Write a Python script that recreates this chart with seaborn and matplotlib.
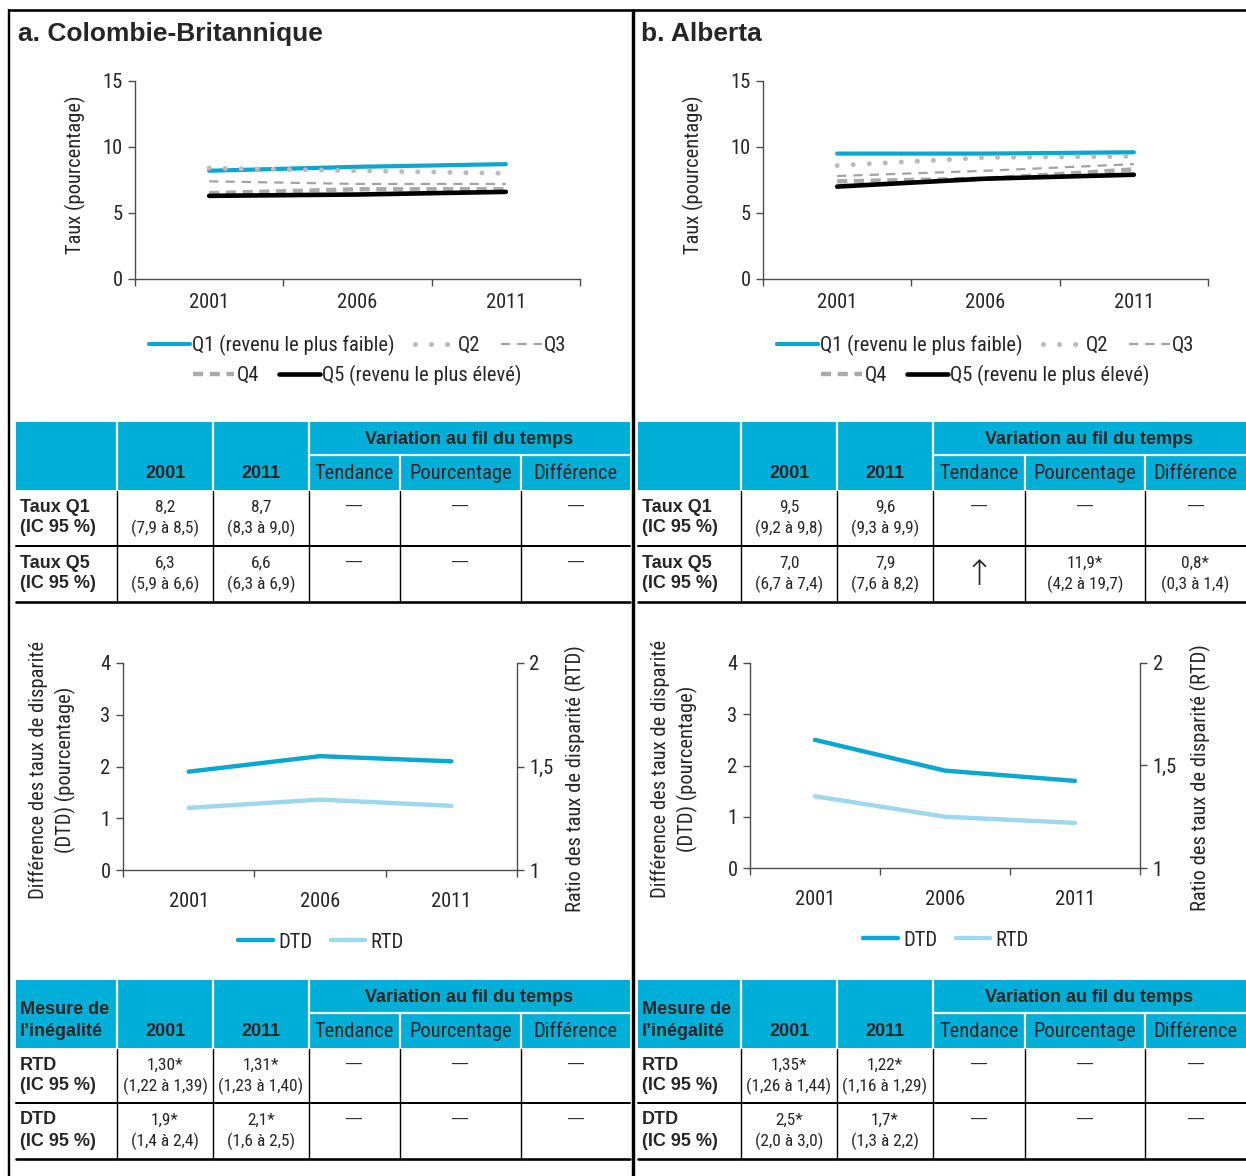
import numpy as np
import pandas as pd
import matplotlib
matplotlib.use("Agg")
import matplotlib.pyplot as plt
import seaborn as sns
from matplotlib.patches import Rectangle
from matplotlib import font_manager

# ---------------------------------------------------------------- data
years = [2001, 2006, 2011]
quintiles = ["Q1", "Q2", "Q3", "Q4", "Q5"]
quintile_labels = ["Q1 (revenu le plus faible)", "Q2", "Q3", "Q4",
                   "Q5 (revenu le plus élevé)"]

bc_q1 = [8.2, 8.5, 8.7]
bc_q2 = [8.4, 8.2, 8.0]
bc_q3 = [7.4, 7.2, 7.2]
bc_q4 = [6.5, 6.8, 6.8]
bc_q5 = [6.3, 6.4, 6.6]

ab_q1 = [9.5, 9.5, 9.6]
ab_q2 = [8.6, 9.2, 9.3]
ab_q3 = [7.8, 8.2, 8.7]
ab_q4 = [7.4, 7.6, 8.3]
ab_q5 = [7.0, 7.6, 7.9]

bc_dtd = [1.9, 2.2, 2.1]
bc_rtd = [1.30, 1.34, 1.31]
ab_dtd = [2.5, 1.9, 1.7]
ab_rtd = [1.35, 1.25, 1.22]

rate_ticks = [0, 5, 10, 15]
dtd_ticks = [0, 1, 2, 3, 4]
rtd_ticks = [1, 1.5, 2]
rtd_tick_labels = ["1", "1,5", "2"]

table_years = ["2001", "2011"]
variation_title = "Variation au fil du temps"
variation_cols = ["Tendance", "Pourcentage", "Différence"]
ci_label = "(IC 95 %)"
rate_rows = ["Taux Q1", "Taux Q5"]
ineq_rows = ["RTD", "DTD"]
ineq_corner = ["Mesure de", "l’inégalité"]

bc_rates_2001 = ["8,2\n(7,9 à 8,5)", "6,3\n(5,9 à 6,6)"]
bc_rates_2011 = ["8,7\n(8,3 à 9,0)", "6,6\n(6,3 à 6,9)"]
bc_rates_trend = ["—", "—"]
bc_rates_pct = ["—", "—"]
bc_rates_diff = ["—", "—"]

ab_rates_2001 = ["9,5\n(9,2 à 9,8)", "7,0\n(6,7 à 7,4)"]
ab_rates_2011 = ["9,6\n(9,3 à 9,9)", "7,9\n(7,6 à 8,2)"]
ab_rates_trend = ["—", "↑"]
ab_rates_pct = ["—", "11,9*\n(4,2 à 19,7)"]
ab_rates_diff = ["—", "0,8*\n(0,3 à 1,4)"]

bc_ineq_2001 = ["1,30*\n(1,22 à 1,39)", "1,9*\n(1,4 à 2,4)"]
bc_ineq_2011 = ["1,31*\n(1,23 à 1,40)", "2,1*\n(1,6 à 2,5)"]
bc_ineq_trend = ["—", "—"]
bc_ineq_pct = ["—", "—"]
bc_ineq_diff = ["—", "—"]

ab_ineq_2001 = ["1,35*\n(1,26 à 1,44)", "2,5*\n(2,0 à 3,0)"]
ab_ineq_2011 = ["1,22*\n(1,16 à 1,29)", "1,7*\n(1,3 à 2,2)"]
ab_ineq_trend = ["—", "—"]
ab_ineq_pct = ["—", "—"]
ab_ineq_diff = ["—", "—"]

# ---------------------------------------------------------------- style
sns.set_theme(style="ticks")
plt.rcParams["font.family"] = ["Liberation Sans", "DejaVu Sans"]


def find_condensed():
    """Pick an installed regular-weight condensed sans face, if any."""
    prefs = ["Liberation Sans Narrow", "Arial Narrow", "Roboto Condensed",
             "Open Sans Condensed", "DejaVu Sans Condensed", "Noto Sans Condensed"]
    entries = font_manager.fontManager.ttflist
    def ok(f):
        return (f.style == "normal" and
                (f.weight in (400, "normal", "regular", "book")))
    for p in prefs:
        for f in entries:
            if f.name == p and ok(f):
                return f.fname
    for f in entries:
        if ok(f) and f.name == "DejaVu Sans" and "Condensed" in f.fname \
                and "Bold" not in f.fname and "Oblique" not in f.fname:
            return f.fname
    for f in entries:
        if ok(f) and f.stretch in ("condensed", "semi-condensed") and \
                "Bold" not in f.fname and "Italic" not in f.fname \
                and "Oblique" not in f.fname:
            return f.fname
    return None


_cond = find_condensed()
if _cond:
    NARROW_FILE = _cond
    NS = 1.0 if "Liberation" in _cond or "Arial" in _cond else 0.92
else:
    NARROW_FILE = font_manager.findfont("Liberation Sans")
    NS = 0.82


def nfont(size):
    return font_manager.FontProperties(fname=NARROW_FILE, size=size * NS)


BOLD = ["Liberation Sans", "DejaVu Sans"]

PX = 72 / 100  # points per pixel at dpi 100
BLUE = "#0AA8D0"
LIGHT_BLUE = "#9DD8EC"
HEAD_BLUE = "#00AFD7"
AXIS_GREY = "#4D4D4D"

q_palette = {"Q1": BLUE, "Q2": "#BBBBBB", "Q3": "#A3A3A3",
             "Q4": "#AAAAAA", "Q5": "#000000"}
q_sizes = {"Q1": 4.2 * PX, "Q2": 5.0 * PX, "Q3": 2.2 * PX,
           "Q4": 4.4 * PX, "Q5": 4.6 * PX}
q_dashes = {"Q1": "", "Q2": (0.01, 3.2), "Q3": (4.2, 3.2),
            "Q4": (2.3, 1.5), "Q5": ""}

W, H = 1246, 1176
fig = plt.figure(figsize=(W / 100, H / 100), dpi=100)
fig.patch.set_facecolor("white")
canvas = fig.add_axes([0, 0, 1, 1], zorder=0)
canvas.set_xlim(0, W)
canvas.set_ylim(H, 0)
canvas.axis("off")


def rect(x0, y0, x1, y1):
    return [x0 / W, 1 - y1 / H, (x1 - x0) / W, (y1 - y0) / H]


def ntext(x, y, s, size=16, **kw):
    kw.setdefault("ha", "center")
    kw.setdefault("va", "center")
    return canvas.text(x, y, s, fontproperties=nfont(size), **kw)


def btext(x, y, s, size=13, **kw):
    kw.setdefault("ha", "left")
    kw.setdefault("va", "center")
    return canvas.text(x, y, s, fontsize=size, family=BOLD,
                       fontweight="bold", **kw)


def style_category_x(ax, pad):
    ax.set_xlim(1998.5, 2013.5)
    ax.set_xticks([1998.5, 2003.5, 2008.5, 2013.5])
    ax.set_xticklabels([])
    ax.set_xticks(years, minor=True)
    ax.set_xticklabels([str(y) for y in years], minor=True)
    for lab in ax.get_xticklabels(minor=True):
        lab.set_fontproperties(nfont(16))
    ax.tick_params(axis="x", which="major", length=5, width=1,
                   color=AXIS_GREY, direction="out")
    ax.tick_params(axis="x", which="minor", length=0, pad=pad)
    ax.set_xlabel("")


def style_y(ax, ticks, labels):
    ax.set_yticks(ticks)
    ax.set_yticklabels(labels)
    for lab in ax.get_yticklabels():
        lab.set_fontproperties(nfont(16))
    ax.tick_params(axis="y", length=5, width=1, color=AXIS_GREY, pad=4)
    ax.set_ylabel("")


def style_spines(ax, right=False):
    for side in ["top", "right", "left", "bottom"]:
        ax.spines[side].set_visible(False)
    ax.spines["bottom"].set_visible(True)
    ax.spines["left" if not right else "right"].set_visible(True)
    for sp in ax.spines.values():
        sp.set_color(AXIS_GREY)
        sp.set_linewidth(1)
    ax.patch.set_alpha(0)


# ---------------------------------------------------------------- rate charts
def rate_chart(box, series, legend_rows_y, label_x):
    ax = fig.add_axes(rect(*box), zorder=2)
    df = pd.DataFrame({
        "Année": years * len(quintiles),
        "Taux": np.concatenate(series),
        "Quintile": np.repeat(quintiles, len(years)),
    })
    sns.lineplot(data=df, x="Année", y="Taux", hue="Quintile",
                 style="Quintile", size="Quintile", palette=q_palette,
                 dashes=q_dashes, sizes=q_sizes, legend=False, ax=ax,
                 sort=False)
    for q, line in zip(quintiles, ax.lines):
        line.set_dash_capstyle("round" if q == "Q2" else "butt")
        line.set_solid_capstyle("round")
    ax.set_ylim(0, 15)
    style_y(ax, rate_ticks, [str(t) for t in rate_ticks])
    style_category_x(ax, 10)
    style_spines(ax)
    ntext(label_x, (box[1] + box[3]) / 2 - 5, "Taux (pourcentage)",
          rotation=90)

    handles = list(ax.lines)
    cx = (box[0] + box[2]) / 2
    rows = [[0, 1, 2], [3, 4]]
    for ry, idx in zip(legend_rows_y, rows):
        fig.legend([handles[i] for i in idx],
                   [quintile_labels[i] for i in idx],
                   loc="center", bbox_to_anchor=(cx / W, 1 - ry / H),
                   ncol=len(idx), frameon=False, handlelength=2.0,
                   handletextpad=0.1, columnspacing=1.0, borderpad=0,
                   prop=nfont(16))
    return ax


rate_chart((135, 81, 580, 279), [bc_q1, bc_q2, bc_q3, bc_q4, bc_q5],
           (345, 375), 75)
rate_chart((763, 81, 1208, 279), [ab_q1, ab_q2, ab_q3, ab_q4, ab_q5],
           (345, 375), 693)


# ---------------------------------------------------------------- disparity charts
def disparity_chart(box, dtd, rtd, left_x, right_x, legend_y):
    ax = fig.add_axes(rect(*box), zorder=2)
    sns.lineplot(x=years, y=dtd, color=BLUE, lw=4.4 * PX, ax=ax,
                 solid_capstyle="round")
    ax.set_ylim(0, 4)
    style_y(ax, dtd_ticks, [str(t) for t in dtd_ticks])
    style_category_x(ax, 16)
    style_spines(ax)

    ax2 = ax.twinx()
    sns.lineplot(x=years, y=rtd, color=LIGHT_BLUE, lw=4.4 * PX, ax=ax2,
                 solid_capstyle="round")
    ax2.set_ylim(1, 2)
    style_y(ax2, rtd_ticks, rtd_tick_labels)
    style_spines(ax2, right=True)
    ax2.spines["bottom"].set_visible(False)

    cy = (box[1] + box[3]) / 2
    ntext(left_x, cy + 3, "Différence des taux de disparité",
          rotation=90)
    ntext(left_x + 27, cy + 3, "(DTD) (pourcentage)", rotation=90)
    ntext(right_x, cy + 12, "Ratio des taux de disparité (RTD)",
          rotation=90)

    fig.legend([ax.lines[0], ax2.lines[0]], ["DTD", "RTD"], loc="center",
               bbox_to_anchor=(((box[0] + box[2]) / 2 + 1) / W,
                               1 - legend_y / H),
               ncol=2, frameon=False, handlelength=1.7, handletextpad=0.25,
               columnspacing=0.9, borderpad=0, prop=nfont(16))


disparity_chart((123, 663, 517, 870), bc_dtd, bc_rtd, 38, 575, 942)
disparity_chart((750, 663, 1140, 868), ab_dtd, ab_rtd, 660, 1200, 940)


# ---------------------------------------------------------------- tables
def draw_table(xe, ys, corner, row_names, columns):
    y_top, y_mid, y_head, y_sep, y_bot = ys
    canvas.add_patch(Rectangle((xe[0], y_top), xe[-1] - xe[0],
                               y_head - y_top, fc=HEAD_BLUE, ec="none"))
    wl = 2.2 * PX
    for x in xe[1:4]:
        canvas.plot([x, x], [y_top, y_head], color="white", lw=wl)
    for x in xe[4:6]:
        canvas.plot([x, x], [y_mid, y_head], color="white", lw=wl)
    canvas.plot([xe[3], xe[-1]], [y_mid, y_mid], color="white", lw=wl)

    btext((xe[3] + xe[-1]) / 2, (y_top + y_mid) / 2 + 1, variation_title,
          ha="center")
    hy = (y_mid + y_head) / 2 + 1
    for i, t in enumerate(table_years):
        btext((xe[1 + i] + xe[2 + i]) / 2, hy, t, ha="center")
    for i, t in enumerate(variation_cols):
        ntext((xe[3 + i] + xe[4 + i]) / 2, hy, t)
    if corner:
        btext(xe[0] + 4, hy - 22, corner[0])
        btext(xe[0] + 4, hy, corner[1])

    for x in xe[1:6]:
        canvas.plot([x, x], [y_head + 1, y_bot], color="black", lw=1.4 * PX)
    canvas.plot([xe[0], xe[-1]], [y_sep, y_sep], color="black", lw=2 * PX)
    canvas.plot([xe[0], xe[-1]], [y_bot, y_bot], color="black", lw=2.6 * PX)

    tops = [y_head, y_sep]
    bots = [y_sep, y_bot]
    for r in range(2):
        top = tops[r]
        btext(xe[0] + 4, top + 17, row_names[r])
        btext(xe[0] + 4, top + 38, ci_label)
        for c, col in enumerate(columns):
            cell = col[r]
            cx = (xe[c + 1] + xe[c + 2]) / 2
            if cell == "↑":
                canvas.text(cx, (top + bots[r]) / 2 + 1, cell, fontsize=25,
                            family=["DejaVu Sans"], fontweight="light",
                            ha="center", va="center")
                continue
            if cell == "—":
                canvas.text(cx, top + 16, cell, fontsize=11.5,
                            family=["Liberation Sans", "DejaVu Sans"],
                            ha="center", va="center")
                continue
            for k, part in enumerate(cell.split("\n")):
                ntext(cx, top + 17 + 21 * k, part, size=13.5)


xa = [16, 117, 213, 309, 400, 521, 630]
xb = [638, 741, 837, 933, 1025, 1145, 1246]
ys_rates = (422, 455, 490, 546, 602)
ys_ineq = (980, 1013, 1048, 1103, 1159)

draw_table(xa, ys_rates, None, rate_rows,
           [bc_rates_2001, bc_rates_2011, bc_rates_trend, bc_rates_pct,
            bc_rates_diff])
draw_table(xb, ys_rates, None, rate_rows,
           [ab_rates_2001, ab_rates_2011, ab_rates_trend, ab_rates_pct,
            ab_rates_diff])
draw_table(xa, ys_ineq, ineq_corner, ineq_rows,
           [bc_ineq_2001, bc_ineq_2011, bc_ineq_trend, bc_ineq_pct,
            bc_ineq_diff])
draw_table(xb, ys_ineq, ineq_corner, ineq_rows,
           [ab_ineq_2001, ab_ineq_2011, ab_ineq_trend, ab_ineq_pct,
            ab_ineq_diff])

# ---------------------------------------------------------------- titles & frame
btext(18, 34, "a. Colombie-Britannique", size=19)
btext(641, 34, "b. Alberta", size=19)

canvas.plot([8, W], [10, 10], color="black", lw=2.6 * PX,
            solid_capstyle="butt")
canvas.plot([9, 9], [9, H], color="black", lw=2.4 * PX,
            solid_capstyle="butt")
canvas.plot([633, 633], [9, H], color="black", lw=3.4 * PX,
            solid_capstyle="butt")

fig.savefig("out.png", dpi=100, facecolor="white")
